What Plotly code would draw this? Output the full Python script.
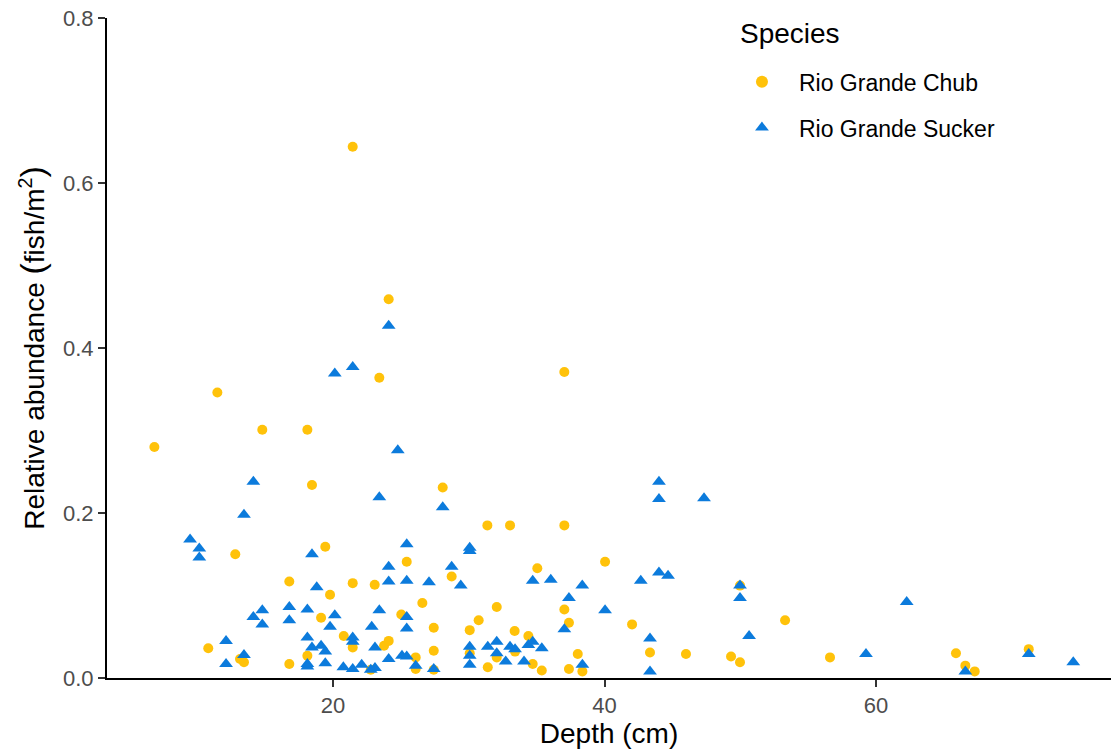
import plotly.graph_objects as go

# ---------------- data ----------------
species = ["Rio Grande Chub", "Rio Grande Sucker"]
legend_title = "Species"

chub_depth = [6.84, 11.48, 14.79, 18.11, 18.45, 12.80, 19.43, 16.78, 21.45, 23.07,
              19.78, 19.12, 20.79, 21.45, 10.81, 13.15, 13.44, 16.78, 18.11, 21.45,
              24.10, 23.41, 37.04, 28.08, 31.37, 33.04, 37.04, 25.43, 35.05, 40.04,
              28.74, 26.58, 32.06, 37.04, 37.38, 25.03, 30.73, 27.42, 30.07, 33.38,
              34.39, 42.03, 23.76, 24.10, 27.42, 26.09, 26.09, 27.42, 30.07, 32.06,
              31.40, 33.41, 34.71, 35.38, 37.38, 38.03, 38.37, 22.78, 43.35, 46.00,
              49.32, 49.98, 49.98, 53.30, 56.61, 65.89, 66.58, 67.27, 71.25]
chub_abund = [0.280, 0.346, 0.301, 0.301, 0.234, 0.150, 0.159, 0.117, 0.115, 0.113,
              0.101, 0.073, 0.051, 0.037, 0.036, 0.023, 0.019, 0.017, 0.027, 0.644,
              0.459, 0.364, 0.371, 0.231, 0.185, 0.185, 0.185, 0.141, 0.133, 0.141,
              0.123, 0.091, 0.086, 0.083, 0.067, 0.077, 0.070, 0.061, 0.058, 0.057,
              0.051, 0.065, 0.039, 0.045, 0.033, 0.025, 0.011, 0.010, 0.030, 0.025,
              0.013, 0.032, 0.017, 0.009, 0.011, 0.029, 0.008, 0.010, 0.031, 0.029,
              0.026, 0.019, 0.112, 0.070, 0.025, 0.030, 0.015, 0.008, 0.035]

sucker_depth = [20.13, 21.45, 24.10, 24.77, 23.41, 28.08, 14.13, 13.44, 9.47, 10.15,
                10.15, 18.45, 18.80, 14.13, 14.79, 14.79, 16.78, 16.78, 18.11, 20.13,
                19.78, 22.85, 23.41, 12.12, 13.44, 12.12, 18.11, 21.45, 21.45, 18.45,
                19.12, 19.43, 18.11, 18.11, 19.43, 20.76, 21.45, 22.11, 22.78, 23.09,
                23.09, 25.43, 30.07, 30.07, 24.10, 24.10, 25.43, 27.07, 28.74, 29.41,
                34.71, 36.04, 38.36, 37.38, 42.67, 40.04, 37.04, 25.43, 25.43, 24.10,
                25.08, 25.43, 26.09, 27.42, 30.07, 30.07, 30.07, 31.40, 32.06, 32.06,
                32.72, 33.04, 33.41, 34.39, 34.71, 35.38, 34.07, 38.37, 43.35, 43.35,
                44.01, 44.01, 47.33, 44.01, 44.68, 49.98, 49.98, 50.65, 59.26, 62.26,
                66.58, 71.25, 74.53]
sucker_abund = [0.369, 0.377, 0.427, 0.276, 0.219, 0.207, 0.238, 0.198, 0.168, 0.157,
                0.146, 0.150, 0.110, 0.074, 0.082, 0.065, 0.086, 0.070, 0.083, 0.076,
                0.062, 0.062, 0.082, 0.045, 0.028, 0.017, 0.049, 0.049, 0.044, 0.037,
                0.039, 0.032, 0.017, 0.014, 0.018, 0.013, 0.011, 0.016, 0.010, 0.012,
                0.037, 0.162, 0.158, 0.154, 0.135, 0.117, 0.118, 0.116, 0.135, 0.112,
                0.118, 0.119, 0.112, 0.097, 0.118, 0.082, 0.059, 0.074, 0.060, 0.023,
                0.027, 0.026, 0.015, 0.011, 0.038, 0.027, 0.016, 0.038, 0.044, 0.030,
                0.020, 0.038, 0.035, 0.040, 0.044, 0.036, 0.020, 0.016, 0.048, 0.008,
                0.238, 0.217, 0.218, 0.128, 0.124, 0.112, 0.097, 0.051, 0.029, 0.092,
                0.008, 0.029, 0.019]

x_ticks = [20, 40, 60]
y_ticks = [0.0, 0.2, 0.4, 0.6, 0.8]

# ---------------- figure ----------------
FONT = "Liberation Sans, Arial, Helvetica, sans-serif"
fig = go.Figure()
fig.add_trace(go.Scatter(
    x=chub_depth, y=chub_abund, mode="markers", name=species[0],
    legendgroup="a",
    marker=dict(symbol="circle", size=10, color="#FFC20A", line=dict(width=0)),
    cliponaxis=False))
fig.add_trace(go.Scatter(
    x=sucker_depth, y=sucker_abund, mode="markers", name=species[1],
    legendgroup="b",
    marker=dict(symbol="triangle-up", size=12, color="#0C7BDC", line=dict(width=0)),
    cliponaxis=False))

axis_common = dict(showgrid=False, zeroline=False, showline=True, linecolor="black",
                   linewidth=2, ticks="outside", ticklen=7, tickwidth=2,
                   tickcolor="#333333",
                   tickfont=dict(family=FONT, size=22, color="#4D4D4D"))

big = "<span style='font-size:34px'>%s</span>"
ytitle = "Relative abundance " + big % "(" + "fish/m<sup>2</sup>" + big % ")"

fig.update_layout(
    width=1113, height=753,
    margin=dict(l=107, r=2, t=18, b=75),
    paper_bgcolor="white", plot_bgcolor="white",
    font=dict(family=FONT, color="black"),
    xaxis=dict(range=[3.35, 77.31], tickvals=x_ticks,
               title=dict(text="Depth (cm)", font=dict(family=FONT, size=28, color="black"),
                          standoff=6),
               **axis_common),
    yaxis=dict(range=[0, 0.8], tickvals=y_ticks, tickformat=".1f",
               title=dict(text=ytitle,
                          font=dict(family=FONT, size=28, color="black"), standoff=10),
               **axis_common),
    legend=dict(x=0.6155, y=0.936, xanchor="left", yanchor="top",
                bgcolor="rgba(0,0,0,0)", traceorder="grouped", tracegroupgap=13,
                itemwidth=64,
                font=dict(family=FONT, size=23, color="black"),
                itemsizing="constant"),
    showlegend=True,
    annotations=[dict(text=legend_title, xref="paper", yref="paper",
                      x=0.628, y=0.977, xanchor="left", yanchor="middle",
                      showarrow=False,
                      font=dict(family=FONT, size=28, color="black"))],
)

fig.write_html("out.html")
